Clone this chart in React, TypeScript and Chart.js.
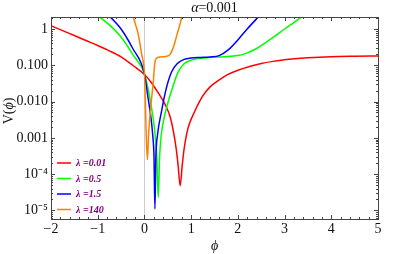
import React, { useEffect, useRef } from "react";
import { Chart, registerables } from "chart.js";

Chart.register(...registerables);

// ---- text / ticks ----
const titleItalic = "α";
const titleRest = "=0.001";
const xAxisLabel = "ϕ";
const yAxisLabelParts = ["V(", "ϕ", ")"];
const xTickValues = [-2, -1, 0, 1, 2, 3, 4, 5];
const yTickValues = [1e-5, 1e-4, 1e-3, 1e-2, 1e-1, 1];
const yTickLabels = ["10⁻⁵", "10⁻⁴", "0.001", "0.010", "0.100", "1"];
const seriesLabels = ["λ =0.01", "λ =0.5", "λ =1.5", "λ =140"];
const seriesColors = ["#ff0000", "#00ff00", "#0000ff", "#ff8000"];

// ---- data ----
const redPhi = [-2, -1.75, -1.5, -1.25, -1, -0.75, -0.5, -0.25, 0, 0.15, 0.3, 0.45, 0.55, 0.62, 0.68, 0.72, 0.765, 0.81, 0.85, 0.91, 0.98, 1.05, 1.15, 1.26, 1.4, 1.62, 1.8, 2.0, 2.25, 2.5, 2.75, 3.0, 3.5, 4.0, 4.5, 5];
const redV = [1.23, 0.9, 0.66, 0.48, 0.35, 0.25, 0.17, 0.1, 0.056, 0.033, 0.017, 0.008, 0.0038, 0.0015, 0.0005, 0.00018, 0.000048, 0.00018, 0.0005, 0.0014, 0.0028, 0.0045, 0.0085, 0.015, 0.025, 0.041, 0.057, 0.073, 0.093, 0.112, 0.128, 0.142, 0.16, 0.172, 0.177, 0.18];

const greenPhi = [-1.05, -0.95, -0.75, -0.5, -0.25, 0, 0.1, 0.18, 0.23, 0.265, 0.295, 0.325, 0.36, 0.42, 0.5, 0.6, 0.72, 0.85, 1.0, 1.2, 1.4, 1.7, 2.0, 2.2, 2.4, 2.6, 2.8, 3.0, 3.2, 3.4, 3.5];
const greenV = [2.55, 2.1, 1.3, 0.6, 0.2, 0.058, 0.016, 0.004, 0.0012, 0.0003, 0.000023, 0.0003, 0.0012, 0.0035, 0.009, 0.024, 0.065, 0.11, 0.138, 0.155, 0.165, 0.172, 0.185, 0.22, 0.29, 0.43, 0.65, 1.0, 1.5, 2.3, 2.8];

const bluePhi = [-0.85, -0.73, -0.5, -0.25, 0, 0.08, 0.13, 0.175, 0.205, 0.225, 0.245, 0.28, 0.36, 0.46, 0.58, 0.7, 0.85, 1.0, 1.2, 1.4, 1.6, 1.8, 2.0, 2.2, 2.4, 2.5];
const blueV = [2.9, 2.14, 1.0, 0.29, 0.058, 0.012, 0.0045, 0.0013, 0.0003, 0.000011, 0.0003, 0.0012, 0.0049, 0.021, 0.065, 0.11, 0.145, 0.158, 0.165, 0.17, 0.185, 0.27, 0.5, 1.0, 1.9, 2.6];

const orangePhi = [-0.3, -0.24, -0.18, -0.13, -0.06, 0, 0.02, 0.04, 0.065, 0.085, 0.115, 0.15, 0.19, 0.22, 0.27, 0.35, 0.45, 0.55, 0.6, 0.65, 0.7, 0.75, 0.8, 0.85];
const orangeV = [3.5, 2.1, 1.2, 0.7, 0.2, 0.058, 0.01, 0.001, 0.00025, 0.001, 0.0036, 0.011, 0.035, 0.11, 0.16, 0.17, 0.175, 0.2, 0.27, 0.42, 0.72, 1.2, 2.1, 3.2];

const allPhi = [redPhi, greenPhi, bluePhi, orangePhi];
const allV = [redV, greenV, blueV, orangeV];

const SERIF = "'Liberation Serif', 'Times New Roman', serif";

const decorPlugin = {
  id: "decor",
  beforeDatasetsDraw(chart: any) {
    const { ctx, chartArea } = chart;
    const xs = chart.scales.x;
    const x0 = Math.round(xs.getPixelForValue(0)) + 0.5;
    ctx.save();
    ctx.strokeStyle = "#cccccc";
    ctx.lineWidth = 1;
    ctx.beginPath();
    ctx.moveTo(x0, chartArea.top);
    ctx.lineTo(x0, chartArea.bottom);
    ctx.stroke();
    ctx.restore();
  },
  afterDatasetsDraw(chart: any) {
    const { ctx, chartArea } = chart;
    const xs = chart.scales.x;
    const ys = chart.scales.y;
    const L = chartArea.left, R = chartArea.right, T = chartArea.top, B = chartArea.bottom;
    ctx.save();
    // frame
    ctx.strokeStyle = "#444";
    ctx.lineWidth = 1;
    ctx.strokeRect(Math.round(L) + 0.5, Math.round(T) + 0.5, Math.round(R - L), Math.round(B - T));
    // x ticks (inward, bottom and top)
    ctx.beginPath();
    for (let k = -20; k <= 50; k++) {
      const v = k / 10;
      if (k % 2 !== 0) continue;
      const major = k % 10 === 0;
      const len = major ? 4 : 2;
      const px = Math.round(xs.getPixelForValue(v)) + 0.5;
      ctx.moveTo(px, B);
      ctx.lineTo(px, B - len);
      ctx.moveTo(px, T);
      ctx.lineTo(px, T + len);
    }
    // y ticks (inward, left and right)
    for (let e = -6; e <= 0; e++) {
      for (let m = 1; m <= 9; m++) {
        const v = m * Math.pow(10, e);
        if (v < ys.min || v > ys.max) continue;
        const len = m === 1 ? 4 : 2;
        const py = Math.round(ys.getPixelForValue(v)) + 0.5;
        ctx.moveTo(L, py);
        ctx.lineTo(L + len, py);
        ctx.moveTo(R, py);
        ctx.lineTo(R - len, py);
      }
    }
    ctx.stroke();

    // title
    const cx = (L + R) / 2;
    ctx.fillStyle = "#111";
    ctx.textBaseline = "alphabetic";
    ctx.font = `italic 14px ${SERIF}`;
    const w1 = ctx.measureText(titleItalic).width;
    ctx.font = `14px ${SERIF}`;
    const w2 = ctx.measureText(titleRest).width;
    let tx = cx - (w1 + w2) / 2;
    ctx.textAlign = "left";
    ctx.font = `italic 14px ${SERIF}`;
    ctx.fillText(titleItalic, tx, 12);
    ctx.font = `14px ${SERIF}`;
    ctx.fillText(titleRest, tx + w1, 12);

    // x axis label
    ctx.font = `italic 14px ${SERIF}`;
    ctx.textAlign = "center";
    ctx.fillText(xAxisLabel, cx, 250);

    // y axis label (rotated)
    ctx.save();
    ctx.translate(13, 111);
    ctx.rotate(-Math.PI / 2);
    const fonts = [`14px ${SERIF}`, `italic 14px ${SERIF}`, `14px ${SERIF}`];
    let tot = 0;
    const ws: number[] = [];
    yAxisLabelParts.forEach((p, i) => {
      ctx.font = fonts[i];
      const w = ctx.measureText(p).width;
      ws.push(w);
      tot += w;
    });
    let ox = -tot / 2;
    ctx.textAlign = "left";
    yAxisLabelParts.forEach((p, i) => {
      ctx.font = fonts[i];
      ctx.fillText(p, ox, 0);
      ox += ws[i];
    });
    ctx.restore();

    // legend
    chart.data.datasets.forEach((ds: any, i: number) => {
      const y = 163 + i * 15.5;
      ctx.strokeStyle = ds.borderColor;
      ctx.lineWidth = 1.5;
      ctx.beginPath();
      ctx.moveTo(57, y);
      ctx.lineTo(71, y);
      ctx.stroke();
      ctx.fillStyle = "#800080";
      ctx.font = `italic bold 10px ${SERIF}`;
      ctx.textAlign = "left";
      ctx.textBaseline = "middle";
      ctx.fillText(ds.label, 76, y + 0.5);
    });
    ctx.restore();
  },
};

export default function App() {
  const ref = useRef<HTMLCanvasElement | null>(null);
  useEffect(() => {
    document.body.style.margin = "0";
    if (!ref.current) return;
    const datasets = allPhi.map((phis, s) => ({
      label: seriesLabels[s],
      data: phis.map((x, i) => ({ x, y: allV[s][i] })),
      borderColor: seriesColors[s],
      backgroundColor: seriesColors[s],
      borderWidth: 1.5,
      pointRadius: 0,
      fill: false,
      cubicInterpolationMode: "monotone" as const,
      order: 4 - s,
    }));
    const chart = new Chart(ref.current, {
      type: "line",
      data: { datasets },
      options: {
        animation: false,
        responsive: false,
        devicePixelRatio: 1,
        layout: { padding: { top: 17, right: 21, left: 0, bottom: 0 } },
        plugins: { legend: { display: false }, title: { display: false }, tooltip: { enabled: false } },
        scales: {
          x: {
            type: "linear",
            min: -2,
            max: 5,
            grid: { display: false, drawTicks: false },
            border: { display: false },
            afterBuildTicks: (scale: any) => {
              scale.ticks = xTickValues.map((v) => ({ value: v }));
            },
            afterFit: (scale: any) => {
              scale.height = 35;
            },
            ticks: {
              autoSkip: false,
              maxRotation: 0,
              padding: 2,
              color: "#111",
              font: { family: SERIF, size: 14 },
              callback: (v: any) => (Number(v) < 0 ? "−" + Math.abs(Number(v)) : String(v)),
            },
          },
          y: {
            type: "logarithmic",
            min: 5.8e-6,
            max: 2.14,
            grid: { display: false, drawTicks: false },
            border: { display: false },
            afterBuildTicks: (scale: any) => {
              scale.ticks = yTickValues.map((v) => ({ value: v }));
            },
            afterFit: (scale: any) => {
              scale.width = 51;
            },
            ticks: {
              autoSkip: false,
              padding: 3,
              color: "#111",
              font: { family: SERIF, size: 14 },
              callback: (_v: any, i: number) => yTickLabels[i],
            },
          },
        },
      },
      plugins: [decorPlugin],
    });
    return () => chart.destroy();
  }, []);
  return (
    <div style={{ width: 399, height: 254 }}>
      <canvas ref={ref} width={399} height={254} />
    </div>
  );
}
